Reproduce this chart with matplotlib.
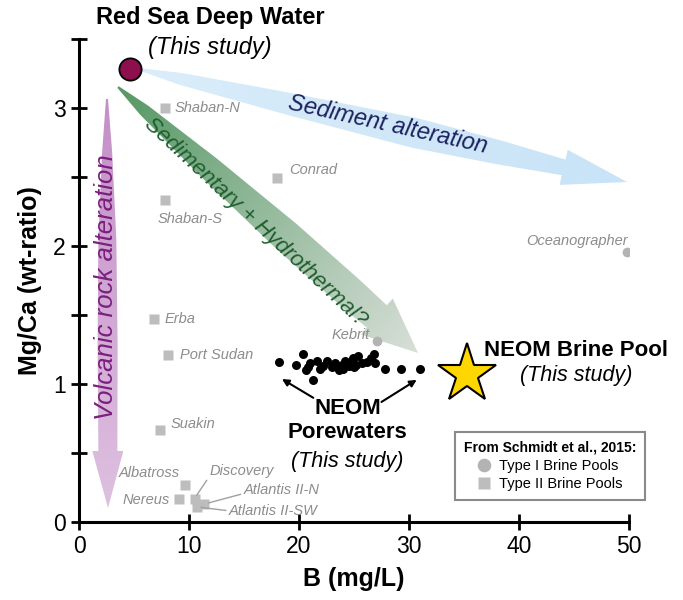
import numpy as np
import matplotlib
matplotlib.use("Agg")
import matplotlib.pyplot as plt
from matplotlib.patches import Polygon

plt.rcParams['font.family'] = ['Liberation Sans', 'DejaVu Sans']

# ---------------- data ----------------
type1_names = ["Kebrit", "Oceanographer"]
type1_b = [27.1, 49.8]
type1_mgca = [1.31, 1.96]

type2_names = ["Shaban-N", "Shaban-S", "Conrad", "Erba", "Port Sudan", "Suakin",
               "Albatross", "Nereus", "Discovery", "Atlantis II-N", "Atlantis II-SW"]
type2_b = [7.8, 7.8, 18.0, 6.8, 8.1, 7.4, 9.6, 9.1, 10.5, 11.4, 10.7]
type2_mgca = [3.00, 2.33, 2.49, 1.47, 1.21, 0.67, 0.27, 0.17, 0.17, 0.13, 0.11]

pore_b = [18.2, 19.7, 20.4, 20.6, 20.8, 21.0, 21.3, 21.6, 21.9, 22.2, 22.5, 23.0,
          23.3, 23.6, 23.9, 24.0, 24.2, 24.5, 24.7, 24.9, 25.0, 25.2, 25.4, 25.7,
          26.2, 26.5, 26.8, 26.9, 27.8, 29.3, 31.0]
pore_mgca = [1.157, 1.14, 1.22, 1.10, 1.12, 1.15, 1.03, 1.17, 1.11, 1.13, 1.17, 1.12,
             1.15, 1.10, 1.14, 1.11, 1.17, 1.13, 1.16, 1.19, 1.12, 1.14, 1.20, 1.15,
             1.16, 1.19, 1.22, 1.15, 1.11, 1.11, 1.11]

rsdw_b, rsdw_mgca = [4.6], [3.28]
brine_b, brine_mgca = [35.3], [1.07]

x_ticks = [0, 10, 20, 30, 40, 50]
y_ticks = [0, 1, 2, 3]

# ---------------- figure ----------------
DPI = 100
fig = plt.figure(figsize=(6.83, 6.0), dpi=DPI)
ax = fig.add_axes([79/683, 78/600, 550/683, 483/600])
ax.set_xlim(0, 50)
ax.set_ylim(0, 3.5)
ax.set_autoscale_on(False)

for s in ['top', 'right']:
    ax.spines[s].set_visible(False)
for s in ['left', 'bottom']:
    ax.spines[s].set_linewidth(2.2)

ax.set_xticks(x_ticks)
ax.set_yticks(y_ticks)
ax.set_yticks([0.5, 1.5, 2.5, 3.5], minor=True)
ax.tick_params(axis='both', which='major', direction='inout', length=11, width=2,
               labelsize=16.5, pad=4)
ax.tick_params(axis='y', which='minor', direction='inout', length=11, width=2)
ax.set_xlabel("B (mg/L)", fontsize=18, fontweight='bold', labelpad=6)
ax.set_ylabel("Mg/Ca (wt-ratio)", fontsize=18, fontweight='bold', labelpad=8)


def to_data(px, py):
    """pixel (from top-left of image) -> data"""
    disp = np.array([px, 600 - py], dtype=float)
    return ax.transData.inverted().transform(disp)


def tapered_arrow(p0, p1, prof_t, prof_w, head_len, head_hw, c0, c1, z):
    T = ax.transData
    P0 = T.transform(p0)
    P1 = T.transform(p1)
    v = P1 - P0
    L = np.hypot(*v)
    d = v / L
    n = np.array([-d[1], d[0]])
    shaft = L - head_len
    t = np.linspace(0, 1, 80)
    w = np.interp(t, prof_t, prof_w)
    centers = P0 + np.outer(t * shaft, d)
    upper = centers + np.outer(w, n)
    lower = centers - np.outer(w, n)
    base = P0 + d * shaft
    poly = np.vstack([upper, base + n * head_hw, P1, base - n * head_hw, lower[::-1]])
    dpoly = T.inverted().transform(poly)
    patch = Polygon(dpoly, closed=True, facecolor='none', edgecolor='none',
                    transform=ax.transData)
    ax.add_patch(patch)
    xmin, ymin = dpoly.min(axis=0)
    xmax, ymax = dpoly.max(axis=0)
    nx = ny = 300
    gx = np.linspace(xmin, xmax, nx)
    gy = np.linspace(ymin, ymax, ny)
    GX, GY = np.meshgrid(gx, gy)
    pix = T.transform(np.column_stack([GX.ravel(), GY.ravel()]))
    s = np.clip(((pix - P0) @ d) / L, 0, 1).reshape(ny, nx)
    c0 = np.array(matplotlib.colors.to_rgb(c0))
    c1 = np.array(matplotlib.colors.to_rgb(c1))
    rgb = c0 + (c1 - c0) * s[..., None]
    im = ax.imshow(rgb, extent=(xmin, xmax, ymin, ymax), origin='lower',
                   aspect='auto', zorder=z, interpolation='bilinear')
    im.set_clip_path(patch)


# arrows (annotation geometry, defined in image pixels)
tapered_arrow(to_data(138, 69), to_data(627, 182),
              [0, 0.1, 0.35, 0.65, 0.85, 1.0], [1, 6, 11, 15, 12, 8],
              65, 18, '#DAEDFA', '#C8E3F7', 1)
tapered_arrow(to_data(118, 87), to_data(418, 353),
              [0, 0.1, 0.35, 0.65, 0.9, 1.0], [1, 6, 12, 16, 16, 15],
              55, 24, '#569865', '#D8DFD8', 1)
tapered_arrow(to_data(107, 99), to_data(108, 508),
              [0, 0.15, 0.4, 0.7, 1.0], [1, 5, 9, 10, 9.5],
              57, 15.5, '#C48FC7', '#DDC0E0', 1)

ax.set_xlim(0, 50)
ax.set_ylim(0, 3.5)

# arrow texts
ax.text(28.1, 2.88, "Sediment alteration", fontsize=17, style='italic',
        color='#1B2160', rotation=-12.5, ha='center', va='center', zorder=3,
        rotation_mode='anchor')
ax.text(16.0, 2.17, "Sedimentary + Hydrothermal?", fontsize=16, style='italic',
        color='#1F5E2E', rotation=-43, ha='center', va='center', zorder=3,
        rotation_mode='anchor')
ax.text(2.45, 1.70, "Volcanic rock alteration", fontsize=18.5, style='italic',
        color='#7B1F7E', rotation=90, ha='center', va='center', zorder=3,
        rotation_mode='anchor')

# Schmidt et al. brine pools
gray_sq = '#BDBDBD'
gray_ci = '#B3B3B3'
lab_c = '#8C8C8C'
h2, = ax.plot(type2_b, type2_mgca, 's', ms=6.5, color=gray_sq, mec='none', zorder=4,
              label='Type II Brine Pools')
h1, = ax.plot(type1_b, type1_mgca, 'o', ms=7, color=gray_ci, mec='none', zorder=4,
              label='Type I Brine Pools')

px2pt = 72 / DPI
label_offsets = {
    "Shaban-N": (10, 0, 'left', None),
    "Shaban-S": (-7, -19, 'left', None),
    "Conrad": (12, 8, 'left', None),
    "Erba": (11, 0, 'left', None),
    "Port Sudan": (12, 0, 'left', None),
    "Suakin": (10, 6, 'left', None),
    "Albatross": (-5, 12, 'right', None),
    "Nereus": (-9, -1, 'right', None),
    "Discovery": (15, 28, 'left', (0, 0.1)),
    "Atlantis II-N": (39, 14, 'left', (0, 0.25)),
    "Atlantis II-SW": (32, -4, 'left', (0, 0.5)),
    "Kebrit": (-7, 6, 'right', None),
    "Oceanographer": (1, 11, 'right', None),
}
all_names = type2_names + type1_names
all_b = type2_b + type1_b
all_m = type2_mgca + type1_mgca
for nm, xb, ym in zip(all_names, all_b, all_m):
    dx, dy, ha, rel = label_offsets[nm]
    kw = {}
    if rel is not None:
        kw['arrowprops'] = dict(arrowstyle='-', color='#A0A0A0', lw=1.0,
                                relpos=rel, shrinkA=0, shrinkB=3)
    ax.annotate(nm, (xb, ym), xytext=(dx * px2pt, dy * px2pt),
                textcoords='offset points', ha=ha, va='center',
                fontsize=10.5, style='italic', color=lab_c, zorder=5, **kw)

# NEOM porewaters
ax.scatter(pore_b, pore_mgca, s=42, color='black', zorder=6, linewidths=0)
# Red Sea deep water
ax.plot(rsdw_b, rsdw_mgca, 'o', ms=16, color='#8E0F4E', mec='black', mew=1.3, zorder=7)
# NEOM brine pool star
ax.plot(brine_b, brine_mgca, '*', ms=44, color='#FFD700', mec='black', mew=1.5, zorder=7)

# NEOM porewater annotation
ax.annotate('', xy=(18.45, 1.036), xytext=(21.3, 0.90),
            arrowprops=dict(arrowstyle='-|>', color='black', lw=1.5,
                            mutation_scale=10, shrinkA=0, shrinkB=0), zorder=6)
ax.annotate('', xy=(30.7, 1.03), xytext=(27.5, 0.87),
            arrowprops=dict(arrowstyle='-|>', color='black', lw=1.5,
                            mutation_scale=10, shrinkA=0, shrinkB=0), zorder=6)
ax.text(24.4, 0.826, "NEOM", fontsize=16, fontweight='bold', ha='center', va='center')
ax.text(24.4, 0.645, "Porewaters", fontsize=16, fontweight='bold', ha='center', va='center')
ax.text(24.4, 0.435, "(This study)", fontsize=15.5, style='italic', ha='center', va='center')

ax.text(45.2, 1.246, "NEOM Brine Pool", fontsize=16, fontweight='bold', ha='center',
        va='center', clip_on=False)
ax.text(45.2, 1.065, "(This study)", fontsize=15.5, style='italic', ha='center', va='center')

ax.text(11.9, 3.656, "Red Sea Deep Water", fontsize=17, fontweight='bold', ha='center',
        va='center', clip_on=False)
ax.text(11.9, 3.44, "(This study)", fontsize=17, style='italic', ha='center', va='center',
        clip_on=False)

# legend
leg = ax.legend(handles=[h1, h2], loc='center', bbox_to_anchor=(0.856, 0.116),
                title="From Schmidt et al., 2015:", fontsize=10.5,
                title_fontproperties={'weight': 'bold', 'size': 10},
                frameon=True, fancybox=False, framealpha=1, edgecolor='#8A8A8A',
                handlelength=1.0, handletextpad=0.5, borderpad=0.6,
                labelspacing=0.3, markerscale=1.4)
leg.get_frame().set_linewidth(1.5)
leg.set_zorder(8)

fig.savefig("out.png", dpi=DPI)
